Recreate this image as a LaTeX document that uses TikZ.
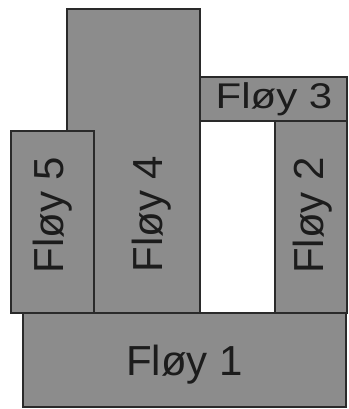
\documentclass[tikz,border=0pt]{standalone}
\usepackage{fontspec}
\setmainfont{Liberation Sans}
\definecolor{wingfill}{HTML}{8C8C8C}
\definecolor{wingline}{HTML}{2A2A2A}
\definecolor{wingtext}{HTML}{1C1C1C}
\tikzset{
  wing/.style={fill=wingfill, draw=wingline, line width=1.6pt},
  winglabel/.style={inner sep=0pt, anchor=base, text=wingtext, font=\fontsize{42}{50}\selectfont}
}
\begin{document}
\begin{tikzpicture}[x=1pt,y=-1pt]
\useasboundingbox (0,0) rectangle (348,409);
\fill[white] (0,0) rectangle (348,409);
% wings
\draw[wing] (67,9) rectangle (200,313);
\draw[wing] (200,77) rectangle (347,121);
\draw[wing] (11,131) rectangle (94,313);
\draw[wing] (275,121) rectangle (347,313);
\draw[wing] (23,313) rectangle (346,407);
% labels
\node[winglabel] (l1) at (184.5,375) {Fløy 1};
\node[winglabel, rotate=90] (l2) at (323,215.5) {Fløy 2};
\node[winglabel, yscale=0.85] (l3) at (274,109) {Fløy 3};
\node[winglabel, rotate=90] (l4) at (162,214) {Fløy 4};
\node[winglabel, rotate=90] (l5) at (63,215) {Fløy 5};
\end{tikzpicture}
\end{document}
